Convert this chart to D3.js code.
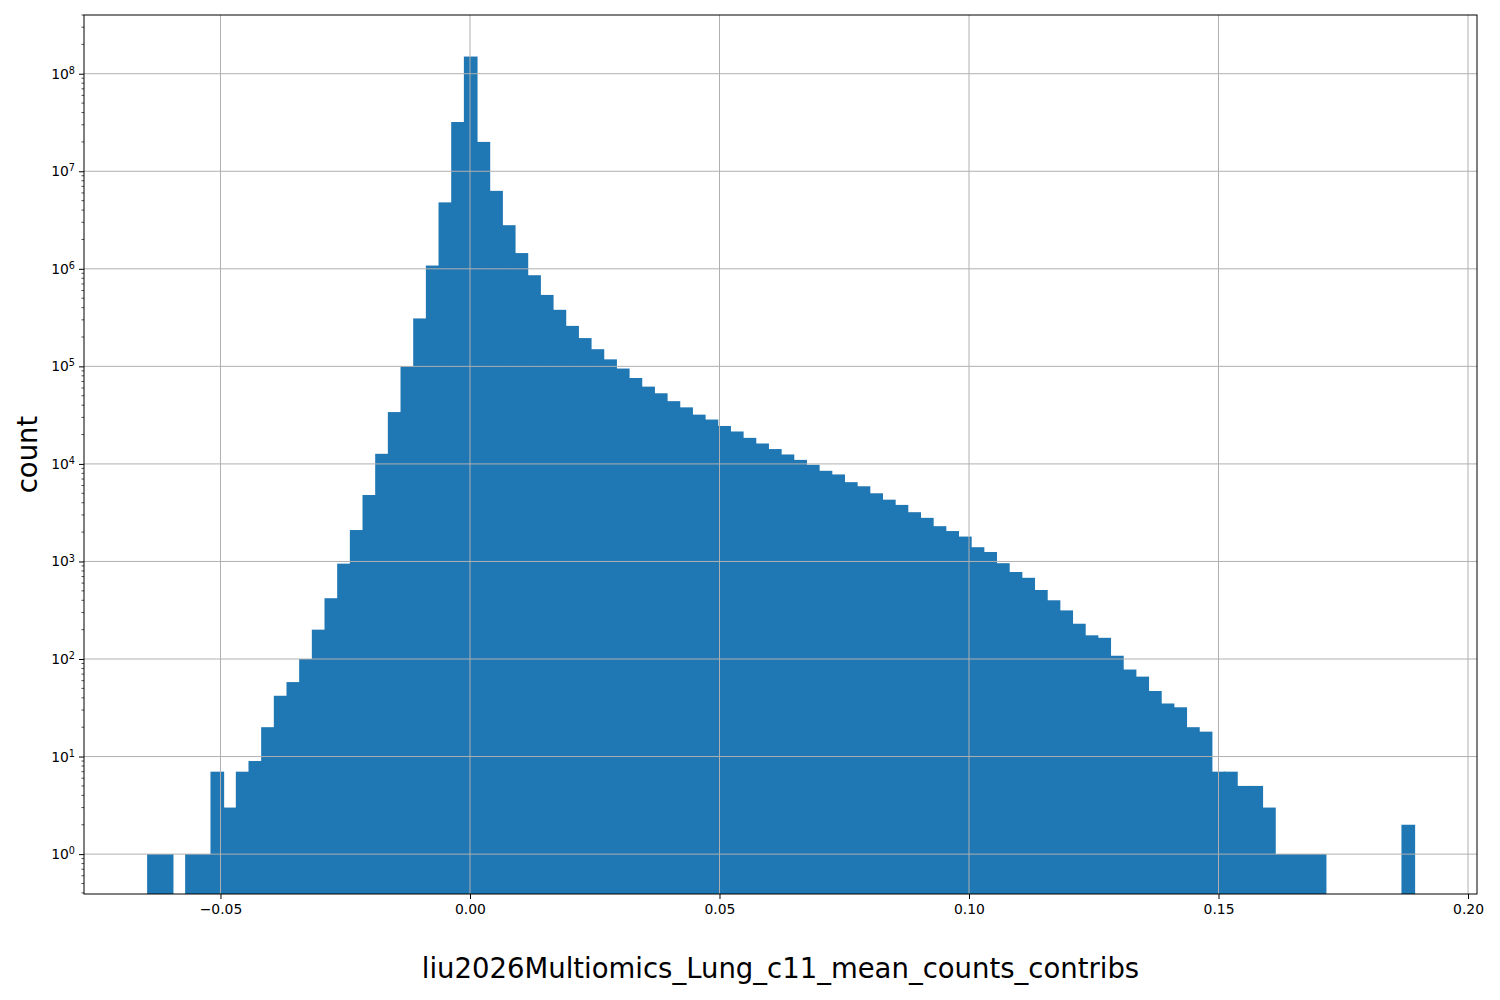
<!DOCTYPE html>
<html>
<head>
<meta charset="utf-8">
<script src="https://cdn.jsdelivr.net/npm/d3@7"></script>
<style>
body { margin: 0; background: #fff; font-family: "DejaVu Sans", sans-serif; }
</style>
</head>
<body>
<div id="chart"></div>
<script>
// histogram: 100 equal bins between binMin and binMax
var binMin = -0.0647, binMax = 0.1892
var counts = [1, 1, 0, 1, 1, 7, 3, 7, 9, 20,
  42, 58, 100, 200, 420, 950, 2100, 4800, 12700, 34000,
  100000, 310000, 1.08e6, 4.8e6, 3.2e7, 1.5e8, 2.0e7, 6.3e6, 2.8e6, 1.45e6,
  8.6e5, 5.4e5, 3.8e5, 2.6e5, 1.95e5, 1.5e5, 1.18e5, 9.5e4, 7.6e4, 6.2e4,
  5.3e4, 4.4e4, 3.8e4, 3.2e4, 2.85e4, 2.45e4, 2.15e4, 1.85e4, 1.62e4, 1.42e4,
  1.25e4, 1.1e4, 9800, 8500, 7800, 6500, 5900, 5000, 4300, 3800,
  3200, 2800, 2300, 2050, 1800, 1400, 1250, 960, 780, 680,
  510, 400, 315, 230, 175, 165, 108, 78, 66, 47,
  35, 32, 20, 18, 7, 7, 5, 5, 3, 1,
  1, 1, 1, 0, 0, 0, 0, 0, 0, 2]
var xTicks = [-0.05, 0, 0.05, 0.10, 0.15, 0.20]
var xTickLabels = ['\u22120.05', '0.00', '0.05', '0.10', '0.15', '0.20']
var yTicks = [1, 10, 100, 1e3, 1e4, 1e5, 1e6, 1e7, 1e8]
var xTitle = 'liu2026Multiomics_Lung_c11_mean_counts_contribs'
var yTitle = 'count'

var W = 1500, H = 1000
var m = {left: 84, right: 23, top: 15, bottom: 106}
var iw = W - m.left - m.right, ih = H - m.top - m.bottom

var svg = d3.select('#chart').append('svg').attr('width', W).attr('height', H)
var g = svg.append('g').attr('transform', 'translate(' + m.left + ',' + m.top + ')')

var x = d3.scaleLinear().domain([-0.07735, 0.2018]).range([0, iw])
var y = d3.scaleLog().domain([0.39, 4e8]).range([ih, 0])

var bw = (binMax - binMin) / counts.length
var bins = counts.map(function(c, i){ return {x0: binMin + i * bw, x1: binMin + (i + 1) * bw, c: c} })

g.selectAll('rect.bar').data(bins.filter(function(d){ return d.c > 0 }))
  .enter().append('rect').attr('class', 'bar')
  .attr('x', function(d){ return x(d.x0) })
  .attr('width', function(d){ return x(d.x1) - x(d.x0) + 1 })
  .attr('y', function(d){ return y(d.c) })
  .attr('height', function(d){ return ih - y(d.c) })
  .attr('fill', '#1f77b4')

// grid on top of bars
var grid = g.append('g')
xTicks.forEach(function(t){
  grid.append('line').attr('x1', x(t)).attr('x2', x(t)).attr('y1', 0).attr('y2', ih)
    .attr('stroke', '#b0b0b0').attr('stroke-width', 1)
})
yTicks.forEach(function(t){
  grid.append('line').attr('x1', 0).attr('x2', iw).attr('y1', y(t)).attr('y2', y(t))
    .attr('stroke', '#b0b0b0').attr('stroke-width', 1)
})

var xAxis = g.append('g').attr('transform', 'translate(0,' + ih + ')')
  .call(d3.axisBottom(x).tickValues(xTicks).tickSize(5).tickPadding(5)
    .tickFormat(function(d, i){ return xTickLabels[i] }))
xAxis.select('.domain').remove()
xAxis.attr('font-size', 13.9).attr('font-family', 'DejaVu Sans')
xAxis.selectAll('text').attr('fill', '#000').style('font-size', '13.9px')

var minor = []
for (var e = -1; e <= 8; e++) for (var k = 2; k <= 9; k++) {
  var v = k * Math.pow(10, e)
  if (v >= 0.39 && v <= 4e8) minor.push(v)
}
var yAxis = g.append('g')
  .call(d3.axisLeft(y).tickValues(yTicks).tickSize(5).tickPadding(4).tickFormat(function(){ return '' }))
yAxis.select('.domain').remove()
yAxis.attr('font-size', 13.9).attr('font-family', 'DejaVu Sans')
yAxis.selectAll('.tick').each(function(d){
  var t = d3.select(this).append('text').attr('x', -9).attr('dy', '0.32em')
    .attr('text-anchor', 'end').style('font-size', '13.9px').attr('fill', '#000')
  t.append('tspan').text('10')
  t.append('tspan').attr('dy', '-0.5em').style('font-size', '9.7px').text(Math.round(Math.log10(d)))
})
minor.forEach(function(v){
  g.append('line').attr('x1', -2.5).attr('x2', 0).attr('y1', y(v)).attr('y2', y(v))
    .attr('stroke', '#000').attr('stroke-width', 0.7)
})

g.append('rect').attr('width', iw).attr('height', ih).attr('fill', 'none')
  .attr('stroke', '#000').attr('stroke-width', 1)

svg.append('text').attr('x', m.left + iw / 2).attr('y', 978).attr('text-anchor', 'middle')
  .attr('font-size', 27.5).text(xTitle)
svg.append('text').attr('transform', 'translate(37,' + (m.top + ih / 2) + ') rotate(-90)')
  .attr('text-anchor', 'middle').attr('font-size', 27.5).text(yTitle)
</script>
</body>
</html>
